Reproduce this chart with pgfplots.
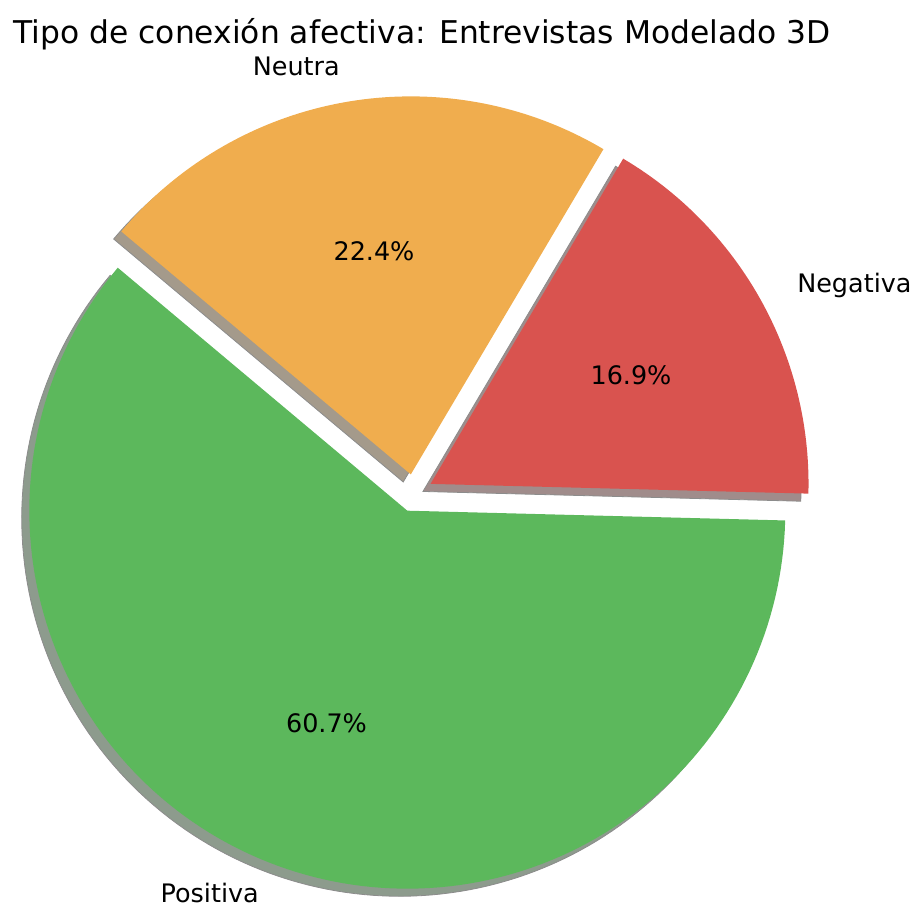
\documentclass[border=0pt]{standalone}
\usepackage{pgfplots}
\usepackage{pgfplotstable}
\pgfplotsset{compat=1.18}
\usepackage{fontspec}
\setmainfont{DejaVu Sans}
\definecolor{cPos}{HTML}{5CB85C}
\definecolor{cNeg}{HTML}{D9534F}
\definecolor{cNeu}{HTML}{F0AD4E}
\definecolor{sPos}{RGB}{141,155,141}
\definecolor{sNeg}{RGB}{160,140,139}
\definecolor{sNeu}{RGB}{164,154,139}
\pgfplotstableread{
label value
Positiva 60.7
Negativa 16.9
Neutra 22.4
}\piedata
\begin{document}
\begin{tikzpicture}
\pgfplotstablegetelem{0}{value}\of\piedata \let\vA\pgfplotsretval
\pgfplotstablegetelem{1}{value}\of\piedata \let\vB\pgfplotsretval
\pgfplotstablegetelem{2}{value}\of\piedata \let\vC\pgfplotsretval
% geometry in pixel units (image coordinates, y downwards)
\def\CX{414}\def\CY{493}\def\R{378}\def\EX{18.9}\def\SH{7.6}
\pgfmathsetmacro\aA{140}
\pgfmathsetmacro\aB{\aA+3.6*\vA}
\pgfmathsetmacro\aC{\aB+3.6*\vB}
\pgfmathsetmacro\aD{\aC+3.6*\vC}
\pgfmathsetmacro\mA{(\aA+\aB)/2}
\pgfmathsetmacro\mB{(\aB+\aC)/2}
\pgfmathsetmacro\mC{(\aC+\aD)/2}
\pgfmathsetmacro\xA{\CX+\EX*cos(\mA)}\pgfmathsetmacro\yA{\CY-\EX*sin(\mA)}
\pgfmathsetmacro\xB{\CX+\EX*cos(\mB)}\pgfmathsetmacro\yB{\CY-\EX*sin(\mB)}
\pgfmathsetmacro\xC{\CX+\EX*cos(\mC)}\pgfmathsetmacro\yC{\CY-\EX*sin(\mC)}
\pgfmathsetmacro\sxA{\xA-\SH}\pgfmathsetmacro\syA{\yA+\SH}
\pgfmathsetmacro\sxB{\xB-\SH}\pgfmathsetmacro\syB{\yB+\SH}
\pgfmathsetmacro\sxC{\xC-\SH}\pgfmathsetmacro\syC{\yC+\SH}
\begin{axis}[
  scale only axis, width=687pt, height=681pt,
  xmin=0, xmax=916, ymin=0, ymax=908, y dir=reverse,
  hide axis, clip=false,
]
% shadows
\addplot[fill=sPos, draw=black!45, line width=0.6pt, domain=\aA:\aB, samples=150, variable=\t]
  ({\sxA+\R*cos(\t)},{\syA-\R*sin(\t)}) -- (axis cs:\sxA,\syA) -- cycle;
\addplot[fill=sNeg, draw=black!45, line width=0.6pt, domain=\aB:\aC, samples=60, variable=\t]
  ({\sxB+\R*cos(\t)},{\syB-\R*sin(\t)}) -- (axis cs:\sxB,\syB) -- cycle;
\addplot[fill=sNeu, draw=black!45, line width=0.6pt, domain=\aC:\aD, samples=80, variable=\t]
  ({\sxC+\R*cos(\t)},{\syC-\R*sin(\t)}) -- (axis cs:\sxC,\syC) -- cycle;
% wedges
\addplot[fill=cPos, draw=none, domain=\aA:\aB, samples=150, variable=\t]
  ({\xA+\R*cos(\t)},{\yA-\R*sin(\t)}) -- (axis cs:\xA,\yA) -- cycle;
\addplot[fill=cNeg, draw=none, domain=\aB:\aC, samples=60, variable=\t]
  ({\xB+\R*cos(\t)},{\yB-\R*sin(\t)}) -- (axis cs:\xB,\yB) -- cycle;
\addplot[fill=cNeu, draw=none, domain=\aC:\aD, samples=80, variable=\t]
  ({\xC+\R*cos(\t)},{\yC-\R*sin(\t)}) -- (axis cs:\xC,\yC) -- cycle;
% texts
\node[anchor=base, font=\fontsize{23.5pt}{28pt}\selectfont, inner sep=0pt] at (axis cs:422,43)
  {Tipo de conexión afectiva: Entrevistas Modelado 3D};
\node[anchor=base east, font=\fontsize{19.1pt}{23pt}\selectfont, inner sep=0pt] at (axis cs:340,75) {Neutra};
\node[anchor=base west, font=\fontsize{19.1pt}{23pt}\selectfont, inner sep=0pt] at (axis cs:797,292) {Negativa};
\node[anchor=base east, font=\fontsize{19.1pt}{23pt}\selectfont, inner sep=0pt] at (axis cs:259,902) {Positiva};
\node[anchor=base, font=\fontsize{19.1pt}{23pt}\selectfont, inner sep=0pt] at (axis cs:326.5,732) {\vA\%};
\node[anchor=base, font=\fontsize{19.1pt}{23pt}\selectfont, inner sep=0pt] at (axis cs:631,384) {\vB\%};
\node[anchor=base, font=\fontsize{19.1pt}{23pt}\selectfont, inner sep=0pt] at (axis cs:374,260) {\vC\%};
\end{axis}
\pgfresetboundingbox
\useasboundingbox (current axis.south west) rectangle (current axis.north east);
\end{tikzpicture}
\end{document}
